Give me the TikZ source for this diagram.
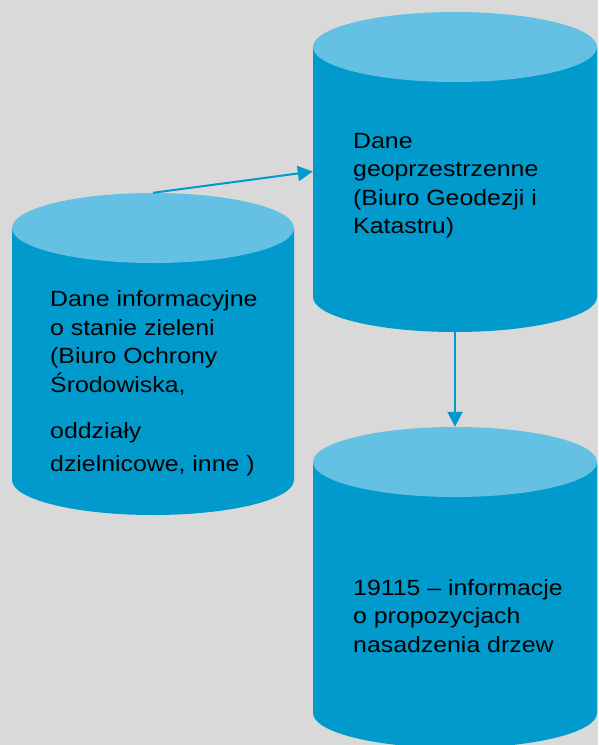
\documentclass[tikz,border=0pt]{standalone}
\usepackage{fontspec}
\setmainfont{Liberation Sans}[FakeStretch=1.13]
\usetikzlibrary{arrows.meta}
\definecolor{bgc}{HTML}{D9D9D9}
\definecolor{bodyc}{HTML}{009BCC}
\definecolor{topc}{HTML}{65C1E3}
\tikzset{
  cylbody/.style={fill=bodyc},
  cyltop/.style={fill=topc},
  box/.style={draw=none,inner sep=0pt,minimum width=#1},
  lbl/.style={font=\fontsize{22}{28.5}\selectfont,align=left,anchor=base west,inner sep=0pt,text=black},
  conn/.style={draw=bodyc,line width=2pt,-{Triangle[length=15pt,width=15pt]}}
}
\begin{document}
\begin{tikzpicture}[x=1pt,y=1pt]
\useasboundingbox (0,0) rectangle (598,-745);
\clip (0,0) rectangle (598,-745);
\fill[bgc] (0,0) rectangle (598,-745);
% cylinder A (top right)
\fill[cylbody] (313,-47) -- (313,-297) arc[start angle=180,end angle=360,x radius=142,y radius=35] -- (597,-47) -- cycle;
\fill[cyltop] (455,-47) ellipse[x radius=142,y radius=35];
\node[box=284pt,minimum height=321pt] (A) at (455,-171.5) {};
% cylinder B (left)
\fill[cylbody] (12,-228) -- (12,-480) arc[start angle=180,end angle=360,x radius=141,y radius=35] -- (294,-228) -- cycle;
\fill[cyltop] (153,-228) ellipse[x radius=141,y radius=35];
\node[box=282pt,minimum height=322pt] (B) at (153,-354) {};
% cylinder C (bottom right)
\fill[cylbody] (313,-462) -- (313,-713) arc[start angle=180,end angle=360,x radius=142,y radius=35] -- (597,-462) -- cycle;
\fill[cyltop] (455,-462) ellipse[x radius=142,y radius=35];
\node[box=284pt,minimum height=321pt] (C) at (455,-587.5) {};
% texts (anchored at the baseline of the last line)
\node[lbl] (tA) at (353,-233.5) {Dane\\geoprzestrzenne\\(Biuro Geodezji i\\Katastru)};
\node[lbl] (tB) at (50,-471) {Dane informacyjne\\o stanie zieleni\\(Biuro Ochrony\\Środowiska,\\[17.5pt]oddziały\\[4.5pt]dzielnicowe, inne )};
\node[lbl] (tC) at (353,-652) {19115 – informacje\\o propozycjach\\nasadzenia drzew};
% connectors
\draw[conn] (B.north) -- (A.west);
\draw[conn] (A.south) -- (C.north);
\end{tikzpicture}
\end{document}
